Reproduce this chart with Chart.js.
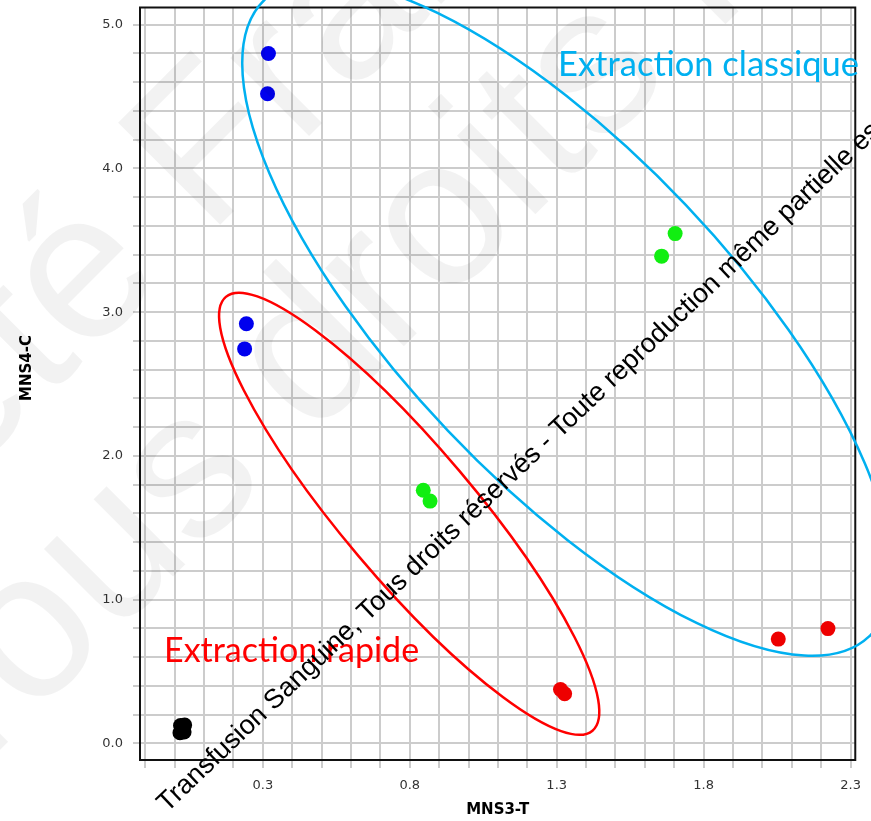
<!DOCTYPE html>
<html>
<head>
<meta charset="utf-8">
<script src="https://cdn.jsdelivr.net/npm/chart.js@4.4.0/dist/chart.umd.min.js"></script>
<style>
  html, body { margin: 0; padding: 0; background: #fff; }
  #wrap { width: 871px; height: 821px; }
</style>
</head>
<body>
<div id="wrap"><canvas id="chart" width="871" height="821"></canvas></div>
<script>
// values (MNS3-T on x, MNS4-C on y)
const blueX = [0.319, 0.316, 0.244, 0.238];
const blueY = [4.80, 4.52, 2.92, 2.745];
const greenX = [0.846, 0.869, 1.703, 1.657];
const greenY = [1.762, 1.686, 3.547, 3.39];
const redX = [1.313, 1.327, 2.054, 2.223];
const redY = [0.375, 0.346, 0.726, 0.799];
const blackX = [0.018, 0.032, 0.02, 0.034];
const blackY = [0.075, 0.08, 0.125, 0.128];

const xTickLabels = [0.3, 0.8, 1.3, 1.8, 2.3];
const yTickLabels = [0, 1, 2, 3, 4, 5];

const xTitle = "MNS3-T";
const yTitle = "MNS4-C";
const groupLabels = ["Extraction classique", "Extraction rapide"];
const notice = "Transfusion Sanguine, Tous droits réservés - Toute reproduction même partielle est interdite";
const watermark = ["Société Française", "Tous droits réservés"];

function toPoints(xs, ys) {
  return xs.map((x, i) => ({ x: x, y: ys[i] }));
}

function tickText(list, value) {
  const v = Number(value);
  for (let i = 0; i < list.length; i++) {
    if (Math.abs(list[i] - v) < 1e-6) return v.toFixed(1);
  }
  return "";
}

// big pale watermark line: the middle between two letters lands on (cx, cy)
function paleLine(ctx, text, cutA, cutB, cx, cy) {
  ctx.save();
  ctx.translate(cx, cy);
  ctx.rotate(-45 * Math.PI / 180);
  ctx.font = "210px 'Liberation Sans'";
  ctx.fillStyle = "rgba(0,0,0,0.05)";
  const a = ctx.measureText(text.slice(0, cutA)).width + ctx.measureText(text[cutA]).width / 2;
  const b = ctx.measureText(text.slice(0, cutB)).width + ctx.measureText(text[cutB]).width / 2;
  ctx.fillText(text, -(a + b) / 2, 60);
  ctx.restore();
}

const overlay = {
  id: "overlay",
  afterDatasetsDraw(chart) {
    const { ctx, chartArea, scales: { x, y } } = chart;
    ctx.save();
    ctx.strokeStyle = "#111";
    ctx.lineWidth = 2;
    ctx.strokeRect(chartArea.left, chartArea.top, chartArea.right - chartArea.left, chartArea.bottom - chartArea.top);

    paleLine(ctx, watermark[0], 6, 10, 215, 145);
    paleLine(ctx, watermark[1], 1, 10, 320, 345);

    // ellipses are placed by their centre in data units
    const ellipses = [
      { cx: 1.335, cy: 2.96, rx: 439, ry: 164, angle: 46.5, color: "#00b0f0" },
      { cx: 0.798, cy: 1.598, rx: 284, ry: 66, angle: 49.8, color: "#ff0000" }
    ];
    ellipses.forEach(e => {
      ctx.beginPath();
      ctx.ellipse(x.getPixelForValue(e.cx), y.getPixelForValue(e.cy), e.rx, e.ry, e.angle * Math.PI / 180, 0, Math.PI * 2);
      ctx.strokeStyle = e.color;
      ctx.lineWidth = 2.5;
      ctx.stroke();
    });

    ctx.textBaseline = "alphabetic";
    ctx.font = "34.5px Lato";
    ctx.fillStyle = "#00b0f0";
    ctx.fillText(groupLabels[0], 558, 76);
    ctx.font = "34px Lato";
    ctx.fillStyle = "#ff0000";
    ctx.fillText(groupLabels[1], 164, 662);

    // y axis title
    ctx.save();
    ctx.translate(27, 368);
    ctx.rotate(-Math.PI / 2);
    ctx.font = "bold 15px 'DejaVu Sans'";
    ctx.fillStyle = "#000";
    ctx.textAlign = "center";
    ctx.textBaseline = "middle";
    ctx.fillText(yTitle, 0, 0);
    ctx.restore();

    // copyright line across the chart
    ctx.save();
    ctx.translate(167, 813);
    ctx.rotate(-43.6 * Math.PI / 180);
    ctx.font = "27px 'Liberation Sans'";
    ctx.fillStyle = "#000";
    ctx.fillText(notice, 0, 0);
    ctx.restore();

    ctx.restore();
  }
};

const gridColor = "#cccccc";

new Chart(document.getElementById("chart"), {
  type: "scatter",
  data: {
    datasets: [
      { label: "blue", data: toPoints(blueX, blueY), backgroundColor: "#0000ee" },
      { label: "green", data: toPoints(greenX, greenY), backgroundColor: "#11ee11" },
      { label: "red", data: toPoints(redX, redY), backgroundColor: "#ee0000" },
      { label: "black", data: toPoints(blackX, blackY), backgroundColor: "#000000" }
    ]
  },
  options: {
    responsive: false,
    animation: false,
    devicePixelRatio: 1,
    layout: { padding: { top: 6, right: 14, left: 0, bottom: 0 } },
    elements: { point: { radius: 7.5, borderWidth: 0, hoverRadius: 7.5 } },
    plugins: { legend: { display: false }, tooltip: { enabled: false } },
    scales: {
      x: {
        type: "linear",
        min: -0.118,
        max: 2.316,
        afterFit(scale) { scale.height = 61; },
        grid: { color: gridColor, lineWidth: 2, tickLength: 8 },
        border: { color: "#111", width: 2 },
        ticks: {
          stepSize: 0.1,
          includeBounds: false,
          autoSkip: false,
          maxRotation: 0,
          padding: 10,
          color: "#333",
          font: { family: "'DejaVu Sans'", size: 13 },
          callback: function (value) { return tickText(xTickLabels, value); }
        },
        title: {
          display: true,
          text: xTitle,
          color: "#000",
          font: { family: "'DejaVu Sans'", size: 15, weight: "bold" },
          padding: { top: 0, bottom: 2 }
        }
      },
      y: {
        type: "linear",
        min: -0.115,
        max: 5.12,
        afterFit(scale) {
          scale.width = 140;
          scale.paddingTop = 0;
          scale.paddingBottom = 0;
        },
        grid: { color: gridColor, lineWidth: 2, tickLength: 7 },
        border: { color: "#111", width: 2 },
        ticks: {
          stepSize: 0.2,
          includeBounds: false,
          autoSkip: false,
          padding: 10,
          color: "#333",
          font: { family: "'DejaVu Sans'", size: 13 },
          callback: function (value) { return tickText(yTickLabels, value); }
        }
      }
    }
  },
  plugins: [overlay]
});
</script>
</body>
</html>
